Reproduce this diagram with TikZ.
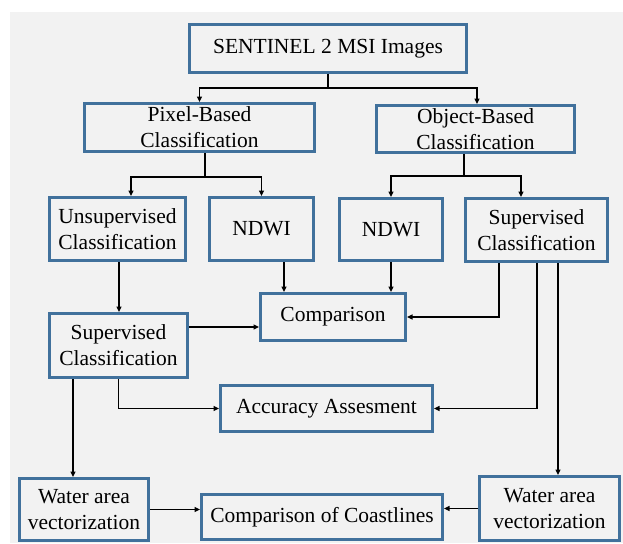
\documentclass[tikz,border=0pt]{standalone}
\usepackage{fontspec}
\newfontfamily\tnr{LiberationSerif}[Extension=.ttf, UprightFont=*-Regular]
\usetikzlibrary{arrows.meta}
\definecolor{boxblue}{RGB}{65,113,156}
\definecolor{bggray}{RGB}{242,242,242}
\begin{document}
\begin{tikzpicture}[x=1pt,y=-1pt,
  box/.style={draw=boxblue, line width=3pt, fill=bggray, inner sep=0pt, align=center,
    font=\tnr\fontsize{21.5}{26}\selectfont},
  arr/.style={line width=1.4pt, -{Triangle[length=5.5pt,width=5pt]}},
  ln/.style={line width=1.4pt}]
\fill[white] (0,0) rectangle (623,543);
\fill[bggray] (10,12) rectangle (623,543);
\useasboundingbox (0,0) rectangle (623,543);

\node[box, minimum width=277, minimum height=48] (sent) at (328,48.5) {SENTINEL 2 MSI Images};
\node[box, minimum width=230, minimum height=48] (pix) at (199.5,127.5) {Pixel-Based\\Classification};
\node[box, minimum width=198, minimum height=47] (obj) at (475.5,129) {Object-Based\\Classification};
\node[box, minimum width=136, minimum height=63] (uns) at (117.5,229) {Unsupervised\\Classification};
\node[box, minimum width=104, minimum height=63] (nd1) at (261.5,229) {NDWI};
\node[box, minimum width=103, minimum height=62] (nd2) at (391,229.5) {NDWI};
\node[box, minimum width=142, minimum height=63] (supR) at (536.5,230) {Supervised\\Classification};
\node[box, minimum width=145, minimum height=47] (comp) at (333,317) {Comparison};
\node[box, minimum width=138, minimum height=64] (supL) at (118.5,345.5) {Supervised\\Classification};
\node[box, minimum width=212, minimum height=46] (acc) at (326.5,408.5) {Accuracy Assesment};
\node[box, minimum width=129, minimum height=62] (watL) at (84,509.5) {Water area\\vectorization};
\node[box, minimum width=241, minimum height=45] (coast) at (322,517) {Comparison of Coastlines};
\node[box, minimum width=140, minimum height=64] (watR) at (549.5,508.5) {Water area\\vectorization};

\coordinate (j1) at (328,88);
\coordinate (j2) at (205,177);
\coordinate (j3) at (464,176);

\draw[ln] (sent.south) -- (j1);
\draw[arr] (j1) -| (pix.north);
\draw[arr] (j1) -| ([xshift=1.5pt]obj.north);

\draw[ln] (pix.south -| j2) -- (j2);
\draw[arr] (j2) -| ([xshift=13.5pt]uns.north);
\draw[arr] (j2) -| (nd1.north);

\draw[ln] (obj.south -| j3) -- (j3);
\draw[arr] (j3) -| (nd2.north);
\draw[arr] (j3) -| ([xshift=-15.5pt]supR.north);

\draw[arr] ([xshift=1.5pt]uns.south) -- ([xshift=1.5pt]uns.south |- supL.north);
\draw[arr] ([xshift=22.5pt]nd1.south) -- ([xshift=22.5pt]nd1.south |- comp.north);
\draw[arr] (nd2.south) -- (nd2.south |- comp.north);
\draw[arr] ([yshift=18.5pt]supL.east) -- ([yshift=18.5pt]supL.east -| comp.west);
\draw[arr] ([xshift=-37.5pt]supR.south) |- (comp.east);
\draw[arr] ([xshift=0.5pt]supR.south) |- (acc.east);
\draw[arr] ([xshift=21.5pt]supR.south) -- ([xshift=21.5pt]supR.south |- watR.north);
\draw[arr] ([xshift=-45.5pt]supL.south) -- ([xshift=-45.5pt]supL.south |- watL.north);
\draw[arr] (supL.south) |- (acc.west);
\draw[arr] (watL.east) -- (watL.east -| coast.west);
\draw[arr] (watR.west) -- (watR.west -| coast.east);
\end{tikzpicture}
\end{document}
